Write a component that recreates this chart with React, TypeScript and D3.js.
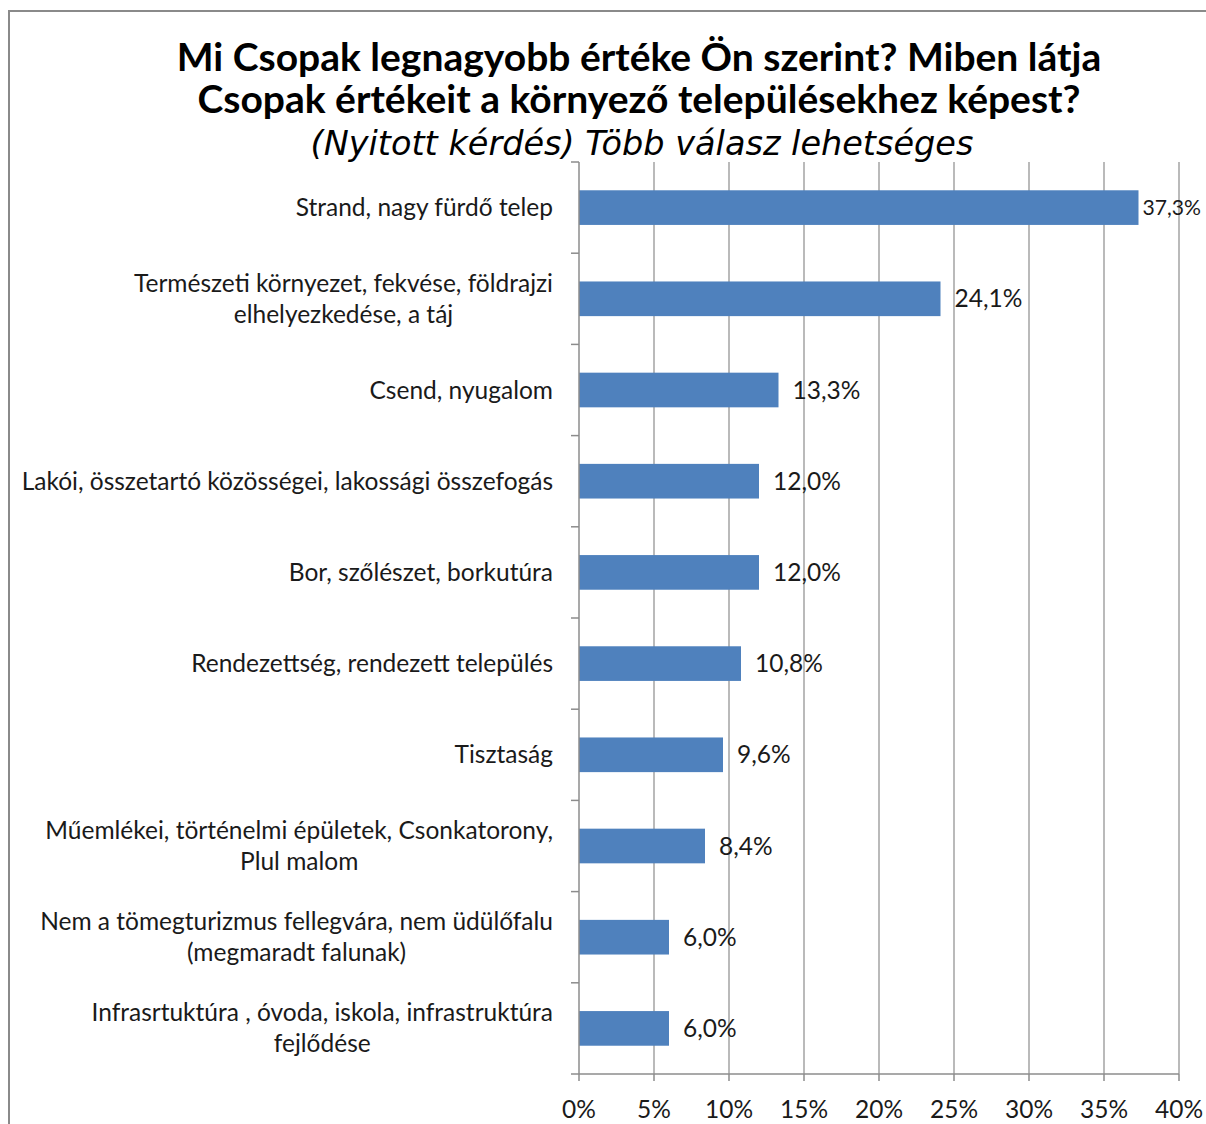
import { useEffect, useRef } from "react";
import * as d3 from "d3";

const categories: string[][] = [
  ["Strand, nagy fürdő telep"],
  ["Természeti környezet, fekvése, földrajzi", "elhelyezkedése, a táj"],
  ["Csend, nyugalom"],
  ["Lakói, összetartó közösségei, lakossági összefogás"],
  ["Bor, szőlészet,  borkutúra"],
  ["Rendezettség, rendezett település"],
  ["Tisztaság"],
  ["Műemlékei, történelmi épületek, Csonkatorony,", "Plul malom"],
  ["Nem a tömegturizmus fellegvára, nem üdülőfalu", "(megmaradt falunak)"],
  ["Infrasrtuktúra , óvoda, iskola, infrastruktúra", "fejlődése"],
];
const values = [37.3, 24.1, 13.3, 12.0, 12.0, 10.8, 9.6, 8.4, 6.0, 6.0];
const xTicks = [0, 5, 10, 15, 20, 25, 30, 35, 40];
const titleLines = [
  "Mi Csopak legnagyobb értéke Ön szerint? Miben látja",
  "Csopak értékeit a környező településekhez képest?",
];
const subtitle = "(Nyitott kérdés) Több válasz lehetséges";

const fmt = (v: number) => v.toFixed(1).replace(".", ",") + "%";

export default function App() {
  const svgRef = useRef<SVGSVGElement>(null);

  useEffect(() => {
    document.body.style.margin = "0";
    if (!svgRef.current) return;
    const width = 1206;
    const height = 1124;
    const svg = d3.select(svgRef.current);
    svg.selectAll("*").remove();
    svg.attr("width", width).attr("height", height);

    const font = "Lato, 'Open Sans', sans-serif";
    const margin = { top: 162, left: 579, right: 27, bottom: 50 };
    const innerW = width - margin.left - margin.right;
    const innerH = height - margin.top - margin.bottom;

    // outer frame
    svg
      .append("path")
      .attr("d", `M9,${height}V11H${width}`)
      .attr("fill", "none")
      .attr("stroke", "#8a8a8a")
      .attr("stroke-width", 2);

    // title
    const title = svg
      .append("g")
      .attr("font-family", font)
      .attr("text-anchor", "middle")
      .attr("fill", "#000");
    titleLines.forEach((t, i) => {
      title
        .append("text")
        .attr("x", 639)
        .attr("y", 71 + i * 42)
        .attr("font-size", 39)
        .attr("font-weight", "bold")
        .text(t);
    });
    title
      .append("text")
      .attr("x", 642)
      .attr("y", 155)
      .attr("font-family", "'DejaVu Sans', sans-serif")
      .attr("font-size", 33.5)
      .attr("font-style", "italic")
      .text(subtitle);

    const g = svg
      .append("g")
      .attr("transform", `translate(${margin.left},${margin.top})`);

    const x = d3.scaleLinear().domain([0, 40]).range([0, innerW]);
    const y = d3
      .scaleBand<number>()
      .domain(d3.range(values.length))
      .range([0, innerH])
      .paddingInner(0.62)
      .paddingOuter(0.31);
    const step = innerH / values.length;

    // gridlines
    g.selectAll("line.grid")
      .data(xTicks.slice(1))
      .join("line")
      .attr("x1", (d) => x(d))
      .attr("x2", (d) => x(d))
      .attr("y1", 0)
      .attr("y2", innerH)
      .attr("stroke", "#8c8c8c")
      .attr("stroke-width", 1.2);

    // bars
    g.selectAll("rect.bar")
      .data(values)
      .join("rect")
      .attr("x", 0)
      .attr("y", (_, i) => y(i)!)
      .attr("width", (d) => x(d))
      .attr("height", y.bandwidth())
      .attr("fill", "#4f81bd");

    // axes lines
    g.append("line")
      .attr("x1", 0)
      .attr("x2", 0)
      .attr("y1", 0)
      .attr("y2", innerH)
      .attr("stroke", "#8c8c8c")
      .attr("stroke-width", 1.5);
    g.append("line")
      .attr("x1", -8)
      .attr("x2", innerW)
      .attr("y1", innerH)
      .attr("y2", innerH)
      .attr("stroke", "#8c8c8c")
      .attr("stroke-width", 1.5);
    g.selectAll("line.ytick")
      .data(d3.range(values.length))
      .join("line")
      .attr("x1", -8)
      .attr("x2", 0)
      .attr("y1", (i) => i * step)
      .attr("y2", (i) => i * step)
      .attr("stroke", "#8c8c8c")
      .attr("stroke-width", 1.5);
    g.selectAll("line.xtick")
      .data(xTicks)
      .join("line")
      .attr("x1", (d) => x(d))
      .attr("x2", (d) => x(d))
      .attr("y1", innerH)
      .attr("y2", innerH + 7)
      .attr("stroke", "#8c8c8c")
      .attr("stroke-width", 1.5);

    // x tick labels
    g.selectAll("text.xlab")
      .data(xTicks)
      .join("text")
      .attr("x", (d) => x(d))
      .attr("y", innerH + 44)
      .attr("text-anchor", "middle")
      .attr("font-family", font)
      .attr("font-size", 24.5)
      .attr("fill", "#1a1a1a")
      .text((d) => `${d}%`);

    // value labels, shrunk if they would leave the picture
    const labelSize = 24.5;
    const limit = width - margin.left - 5;
    const vl = g
      .selectAll("text.val")
      .data(values)
      .join("text")
      .attr("y", (_, i) => y(i)! + y.bandwidth() / 2)
      .attr("dy", "0.35em")
      .attr("font-family", font)
      .attr("font-size", labelSize)
      .attr("fill", "#1a1a1a")
      .text((d) => fmt(d));
    vl.each(function (d) {
      const el = this as SVGTextElement;
      const w = el.getComputedTextLength();
      let pos = Math.min(x(d) + 14, limit - w);
      const sel = d3.select(el);
      if (pos < x(d) + 4) {
        pos = x(d) + 4;
        sel.attr("font-size", (labelSize * (limit - pos)) / w);
      }
      sel.attr("x", pos);
    });

    // category labels (centred block, right aligned)
    const lineH = 31;
    const right = -26;
    categories.forEach((lines, i) => {
      const cy = y(i)! + y.bandwidth() / 2;
      const grp = g
        .append("g")
        .attr("font-family", font)
        .attr("font-size", 24.5)
        .attr("fill", "#1a1a1a")
        .attr("text-anchor", "middle");
      const texts = lines.map((t, j) =>
        grp
          .append("text")
          .attr("y", cy + (j - (lines.length - 1) / 2) * lineH)
          .attr("dy", "0.35em")
          .text(t),
      );
      const maxW = d3.max(texts, (t) => t.node()!.getComputedTextLength()) ?? 0;
      texts.forEach((t) => t.attr("x", right - maxW / 2));
    });
  }, []);

  return (
    <div>
      <svg ref={svgRef} style={{ display: "block" }} />
    </div>
  );
}
